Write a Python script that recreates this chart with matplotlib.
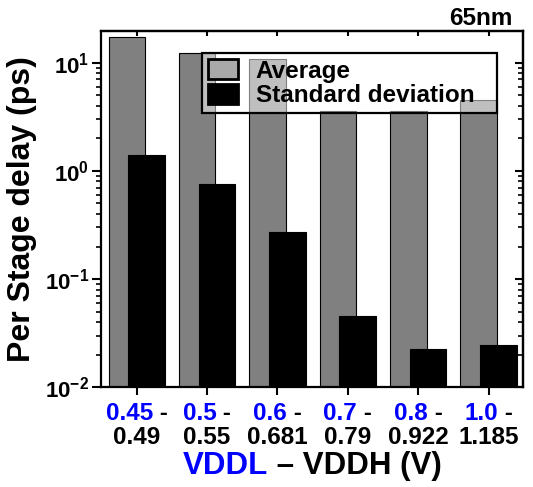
import matplotlib
matplotlib.use("Agg")
import matplotlib.pyplot as plt
import numpy as np
from matplotlib.patches import Patch
from matplotlib.offsetbox import TextArea, HPacker, AnnotationBbox
from matplotlib.ticker import LogLocator, FuncFormatter, NullFormatter, NullLocator

plt.rcParams['font.family'] = ['Liberation Sans', 'DejaVu Sans']
plt.rcParams['font.weight'] = 'bold'
plt.rcParams['mathtext.fontset'] = 'custom'
plt.rcParams['mathtext.rm'] = 'Liberation Sans:bold'
plt.rcParams['mathtext.bf'] = 'Liberation Sans:bold'
plt.rcParams['mathtext.it'] = 'Liberation Sans:bold:italic'

# supply pairs (low / high) and the per-stage delay statistics in ps
vddl = ["0.45", "0.5", "0.6", "0.7", "0.8", "1.0"]
vddh = ["0.49", "0.55", "0.681", "0.79", "0.922", "1.185"]
avg_delay = [17.2, 12.4, 10.8, 3.6, 3.6, 4.5]
std_delay = [1.40, 0.76, 0.27, 0.046, 0.0224, 0.0244]

x = np.arange(len(vddl))
fig = plt.figure(figsize=(5.33, 4.87), dpi=100)
ax = fig.add_axes([0.1895, 0.2047, 0.7917, 0.7316])

ax.bar(x - 0.14, avg_delay, width=0.52, color='#808080', edgecolor='black',
       linewidth=0.8, zorder=2)
ax.bar(x + 0.14, std_delay, width=0.52, color='black', edgecolor='black',
       linewidth=0.8, zorder=3)

ax.set_yscale('log')
ax.set_ylim(0.01, 19.6)
ax.set_xlim(-0.507, 5.49)

for s in ax.spines.values():
    s.set_linewidth(1.6)

# bottom / left ticks point out, mirrored ticks on top / right point in
ax.set_xticks(x)
ax.tick_params(axis='x', which='major', direction='out', length=5.5, width=1.5,
               labelbottom=False)
ax.yaxis.set_major_locator(LogLocator(base=10, numticks=10))
ax.yaxis.set_minor_locator(LogLocator(base=10, subs=np.arange(2, 10), numticks=10))
ax.yaxis.set_major_formatter(FuncFormatter(
    lambda v, p: r'$\mathbf{10^{%d}}$' % round(np.log10(v))))
ax.yaxis.set_minor_formatter(NullFormatter())
ax.tick_params(axis='y', which='major', direction='out', length=6.5, width=1.5,
               labelsize=16, pad=2)
ax.tick_params(axis='y', which='minor', direction='out', length=3.6, width=1.2)

top = ax.secondary_xaxis('top')
top.set_xticks(x)
top.xaxis.set_minor_locator(NullLocator())
top.tick_params(direction='in', length=3.6, width=1.5, labeltop=False)
top.spines['top'].set_linewidth(1.6)

right = ax.secondary_yaxis('right')
right.yaxis.set_major_locator(LogLocator(base=10, numticks=10))
right.yaxis.set_minor_locator(LogLocator(base=10, subs=np.arange(2, 10), numticks=10))
right.tick_params(which='major', direction='in', length=6, width=1.5, labelright=False)
right.tick_params(which='minor', direction='in', length=3.6, width=1.2, labelright=False)
right.spines['right'].set_linewidth(1.6)

# two-row tick labels: blue VDDL with dash, black VDDH below
tick_kw = dict(fontsize=17.5, fontweight='bold')
for xi, lo, hi in zip(x, vddl, vddh):
    row1 = HPacker(children=[TextArea(lo, textprops=dict(color='blue', **tick_kw)),
                             TextArea(" -", textprops=dict(color='black', **tick_kw))],
                   pad=0, sep=0, align='baseline')
    ax.add_artist(AnnotationBbox(row1, (xi, 487 - 413),
                                 xycoords=('data', 'figure pixels'), frameon=False,
                                 box_alignment=(0.5, 0.5), annotation_clip=False))
    row2 = TextArea(hi, textprops=dict(color='black', **tick_kw))
    ax.add_artist(AnnotationBbox(row2, (xi, 487 - 438),
                                 xycoords=('data', 'figure pixels'), frameon=False,
                                 box_alignment=(0.5, 0.5), annotation_clip=False))

lab_kw = dict(fontsize=22.5, fontweight='bold')
xlab = HPacker(children=[TextArea("VDDL", textprops=dict(color='blue', **lab_kw)),
                         TextArea(" \u2013 VDDH (V)", textprops=dict(color='black', **lab_kw))],
               pad=0, sep=0, align='baseline')
ax.add_artist(AnnotationBbox(xlab, (0.5, 487 - 466),
                             xycoords=('axes fraction', 'figure pixels'), frameon=False,
                             box_alignment=(0.5, 0.5), annotation_clip=False))

ax.set_ylabel("Per Stage delay (ps)", fontsize=23, fontweight='bold')
ax.yaxis.set_label_coords(-0.152, 0.5)

ax.text(0.974, 1.017, "65nm", transform=ax.transAxes, ha='right', va='baseline',
        fontsize=17.5, fontweight='bold')

handles = [Patch(facecolor='#a9a9a9', edgecolor='black', linewidth=2),
           Patch(facecolor='black', edgecolor='black', linewidth=2)]
leg = ax.legend(handles, ['Average', 'Standard deviation'], loc='upper left',
                bbox_to_anchor=(0.239, 0.764, 0.699, 0.174), mode='expand',
                borderaxespad=0, fontsize=17.5, handlelength=1.23, handleheight=0.9,
                handletextpad=0.74, labelspacing=0.05, borderpad=0.25, fancybox=False)
frame = leg.get_frame()
frame.set_alpha(None)
frame.set_facecolor((1, 1, 1, 0.5))
frame.set_edgecolor('black')
frame.set_linewidth(1.6)
leg.set_zorder(5)

fig.savefig("out.png", dpi=100)
